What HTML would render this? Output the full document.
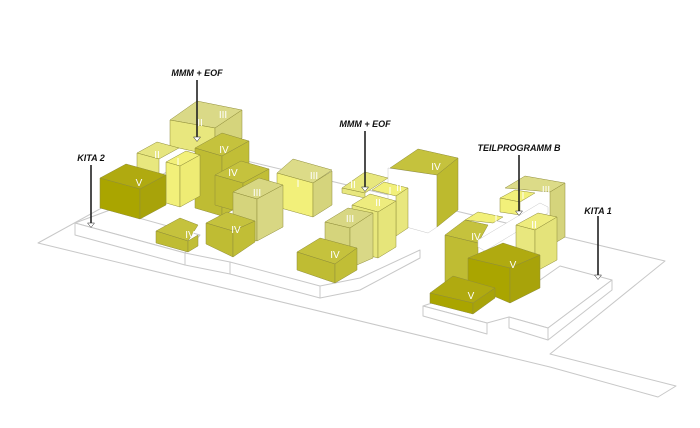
<!DOCTYPE html>
<html><head><meta charset="utf-8"><style>
html,body{margin:0;padding:0;background:#fff;}
svg{display:block;}
.lb{font-family:"Liberation Sans",sans-serif;font-weight:bold;font-style:italic;font-size:9px;fill:#111;}
.rn{font-family:"Liberation Sans",sans-serif;font-size:10px;fill:#fff;}
polygon{stroke:#8f8d3a;stroke-width:0.5;stroke-linejoin:round;}
.pl{fill:#fff;stroke:#c8c8c8;stroke-width:1;}
</style></head><body>
<svg width="700" height="428" viewBox="0 0 700 428" xmlns="http://www.w3.org/2000/svg">
<!-- site outline -->
<polygon class="pl" points="38,243 205,151 665,261 550,354 676,386 658,397 550,367" />
<!-- platforms -->
<polygon class="pl" points="75,223 110,210 200,235 185,253" />
<polygon class="pl" points="75,223 185,253 185,265 75,235" />
<polygon class="pl" points="185,253 230,262 230,274 185,265" />
<polygon class="pl" points="230,262 320,286 320,298 230,274" />
<polygon class="pl" points="320,286 360,278 420,250 420,258 360,290 320,298" />
<polygon class="pl" points="423,306 470,290 540,280 560,266 612,280 548,328 509,317 487,323" />
<polygon class="pl" points="423,306 487,323 487,334 423,316" />
<polygon class="pl" points="509,317 548,328 548,340 509,328" />
<polygon class="pl" points="548,328 612,280 612,290 548,340" />

<!-- back top II/III -->
<polygon points="170,120 197,101 242,110 215,128" fill="#dad987"/>
<polygon points="170,120 215,128 215,156 170,146" fill="#e8e77e"/>
<polygon points="215,128 242,110 242,138 215,156" fill="#d5d47c"/>
<!-- II left -->
<polygon points="137,153 157,142 179,148 159,159" fill="#e6e580"/>
<polygon points="137,153 159,159 159,195 137,189" fill="#e8e77e"/>
<!-- IV big -->
<polygon points="195,148 222,133 249,141 222,156" fill="#c5c23d"/>
<polygon points="195,148 222,156 222,216 195,208" fill="#bfbc33"/>
<polygon points="222,156 249,141 249,201 222,216" fill="#c1be36"/>
<!-- I -->
<polygon points="166,162 186,151 200,155 180,166" fill="#f2f07a"/>
<polygon points="166,162 180,166 180,207 166,203" fill="#f2f07a"/>
<polygon points="180,166 200,155 200,196 180,207" fill="#eeec74"/>
<!-- V KITA2 -->
<polygon points="100,178 126,164 166,175 140,189" fill="#b0aa10"/>
<polygon points="100,178 140,189 140,219 100,208" fill="#aaa500"/>
<polygon points="140,189 166,175 166,205 140,219" fill="#a8a30a"/>
<!-- I/III block -->
<polygon points="277,173 293,159 332,170 313,183" fill="#dcdb88"/>
<polygon points="277,173 313,183 313,217 277,207" fill="#f2f07a"/>
<polygon points="313,183 332,171 332,205 313,217" fill="#d5d47c"/>
<!-- IV mid -->
<polygon points="215,175 241,161 269,169 243,183" fill="#c5c23d"/>
<polygon points="215,175 243,183 243,213 215,205" fill="#bfbc33"/>
<polygon points="243,183 269,169 269,199 243,213" fill="#c1be36"/>
<!-- III mid -->
<polygon points="233,192 259,178 283,185 257,199" fill="#d8d783"/>
<polygon points="233,192 257,199 257,241 233,234" fill="#d5d47c"/>
<polygon points="257,199 283,185 283,227 257,241" fill="#d8d783"/>
<!-- IV small left -->
<polygon points="156,231 180,218 198,225 188,241" fill="#c5c23d"/>
<polygon points="156,231 188,241 188,252 156,243" fill="#bfbc33"/>
<polygon points="188,241 198,235 198,246 188,252" fill="#c1be36"/>
<!-- IV small center -->
<polygon points="206,223 227,212 255,221 233,231" fill="#c5c23d"/>
<polygon points="206,223 233,231 233,257 206,244" fill="#bfbc33"/>
<polygon points="233,231 255,221 255,242 233,257" fill="#c1be36"/>

<!-- IV tall right -->
<polygon points="388,168 437,175 437,227 428,233 388,222" fill="#fff" style="stroke:#c8c8c8"/>
<polygon points="390,168 418,149 458,158 437,175" fill="#c5c23d"/>
<polygon points="437,175 458,158 458,210 437,227" fill="#bdba2e"/>
<!-- II slab -->
<polygon points="342,188 365,172 388,178 365,193" fill="#e8e77e"/>
<polygon points="342,188 365,193 365,198 342,193" fill="#e8e77e"/>
<!-- I central -->
<polygon points="372,190 384,182 408,188 396,196" fill="#f2f07a"/>
<polygon points="396,196 408,188 408,228 396,236" fill="#e8e77e"/>
<!-- II central -->
<polygon points="352,205 370,194 396,201 378,212" fill="#eeec7e"/>
<polygon points="352,205 378,212 378,258 352,251" fill="#e8e77c"/>
<polygon points="378,212 396,201 396,247 378,258" fill="#e6e57a"/>
<!-- III central -->
<polygon points="325,222 348,208 373,213 350,228" fill="#d8d783"/>
<polygon points="325,222 350,228 350,268 325,262" fill="#d5d47c"/>
<polygon points="350,228 373,213 373,258 350,268" fill="#d9d886"/>
<!-- IV lower -->
<polygon points="297,252 320,238 357,248 335,264" fill="#c5c23d"/>
<polygon points="297,252 335,264 335,283 297,270" fill="#bfbc33"/>
<polygon points="335,264 357,248 357,270 335,283" fill="#c1be36"/>

<!-- right cluster -->
<polygon points="505,188 525,176 565,183 550,192" fill="#dcdb88"/>
<polygon points="550,192 565,183 565,237 550,246" fill="#d5d47c"/>
<polygon points="500,198 515,190 535,193 520,202" fill="#f2f07a"/>
<polygon points="500,198 520,202 520,215 500,212" fill="#f2f07a"/>
<polygon points="445,235 465,220 488,225 478,243" fill="#c5c23d"/>
<polygon points="445,235 478,243 478,290 445,282" fill="#bfbc33"/>
<polygon points="465,220 478,212 503,217 493,223" fill="#f2f07a"/>
<polygon points="478,240 540,203 548,207 548,213 485,251 478,247" fill="#fff" style="stroke:#c8c8c8"/>
<polygon points="516,225 538,213 557,217 535,230" fill="#eeec7e"/>
<polygon points="516,225 535,230 535,272 516,267" fill="#e8e77e"/>
<polygon points="535,230 557,217 557,260 535,272" fill="#e4e37a"/>
<polygon points="468,258 503,243 540,255 510,268" fill="#b0aa10"/>
<polygon points="468,258 510,268 510,303 468,285" fill="#aaa500"/>
<polygon points="510,268 540,255 540,288 510,303" fill="#a8a30a"/>
<polygon points="430,293 453,276 495,288 473,303" fill="#b0aa10"/>
<polygon points="430,293 473,303 473,314 430,303" fill="#aaa500"/>
<polygon points="473,303 495,288 495,298 473,314" fill="#a8a30a"/>

<!-- roman labels -->
<g class="rn" text-anchor="middle">
<text x="139" y="186">V</text>
<text x="157" y="158">II</text>
<text x="178" y="165">I</text>
<text x="200" y="126">II</text>
<text x="223" y="118">III</text>
<text x="224" y="153">IV</text>
<text x="233" y="176">IV</text>
<text x="257" y="196">III</text>
<text x="190" y="238">IV</text>
<text x="236" y="233">IV</text>
<text x="314" y="179">III</text>
<text x="298" y="187">I</text>
<text x="335" y="258">IV</text>
<text x="350" y="222">III</text>
<text x="378" y="206">II</text>
<text x="390" y="194">I</text>
<text x="399" y="191">II</text>
<text x="353" y="188">II</text>
<text x="436" y="170">IV</text>
<text x="476" y="240">IV</text>
<text x="496" y="222">I</text>
<text x="546" y="193">III</text>
<text x="523" y="199">I</text>
<text x="534" y="228">II</text>
<text x="513" y="268">V</text>
<text x="471" y="299">V</text>
</g>

<!-- annotations -->
<g stroke="#222" stroke-width="1.6" fill="#fff">
<line x1="197" y1="80" x2="197" y2="137"/>
<line x1="365" y1="131" x2="365" y2="187"/>
<line x1="519" y1="155" x2="519" y2="211"/>
<line x1="91" y1="165" x2="91" y2="223"/>
<line x1="598" y1="216" x2="598" y2="275"/>
</g>
<g fill="#fff" stroke="#222" stroke-width="1">
<polygon points="193.5,137 200.5,137 197,141.5" style="stroke:#222"/>
<polygon points="361.5,187 368.5,187 365,191.5" style="stroke:#222"/>
<polygon points="515.5,211 522.5,211 519,215.5" style="stroke:#222"/>
<polygon points="87.5,223 94.5,223 91,227.5" style="stroke:#222"/>
<polygon points="594.5,275 601.5,275 598,279.5" style="stroke:#222"/>
</g>
<g class="lb" text-anchor="middle">
<text x="197" y="76">MMM + EOF</text>
<text x="365" y="127">MMM + EOF</text>
<text x="519" y="151">TEILPROGRAMM B</text>
<text x="91" y="161">KITA 2</text>
<text x="598" y="214">KITA 1</text>
</g>
</svg>
</body></html>
